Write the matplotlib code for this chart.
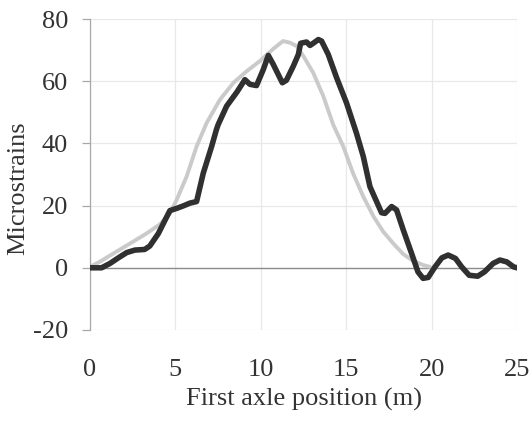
import matplotlib
matplotlib.use("Agg")
import matplotlib.pyplot as plt

# Measured strain (dark) and computed strain (light) vs first axle position
measured_x = [0, 0.68, 1.17, 1.66, 2.15, 2.63, 3.2, 3.5, 4.0, 4.4, 4.68, 5.07, 5.46,
              5.85, 6.24, 6.63, 7.12, 7.4, 7.5, 8.0, 8.6, 9.07, 9.36, 9.75, 10.15,
              10.44, 10.73, 11.26, 11.5, 11.9, 12.2, 12.33, 12.68, 12.88, 13.07,
              13.37, 13.56, 13.95, 14.44, 15.02, 15.6, 16.0, 16.39, 17.07, 17.27,
              17.66, 17.95, 18.34, 18.83, 19.2, 19.5, 19.8, 20.2, 20.6, 20.97,
              21.4, 21.76, 22.2, 22.7, 23.1, 23.6, 24.0, 24.4, 24.8, 25.0]
measured_y = [0, 0, 1.4, 3.2, 4.9, 5.7, 5.9, 7.0, 11.0, 15.4, 18.4, 19.1, 19.9,
              20.8, 21.3, 30.4, 39.0, 44.4, 46.0, 52.0, 56.5, 60.5, 59.0, 58.6, 63.8,
              68.3, 65.4, 59.5, 60.3, 64.8, 68.6, 72.2, 72.6, 71.5, 72.2,
              73.4, 72.9, 68.6, 61.1, 53.0, 43.3, 35.8, 26.1, 17.7, 17.5,
              19.7, 18.6, 12.2, 4.6, -1.3, -3.4, -3.1, 0.3, 3.2, 4.1,
              3.0, 0.3, -2.4, -2.7, -1.3, 1.4, 2.5, 1.9, 0.3, 0]

computed_x = [0, 0.59, 1.37, 2.34, 3.3, 4.1, 4.68, 5.07, 5.66, 6.24, 6.83, 7.6, 8.4,
              9.17, 9.95, 10.73, 11.3, 11.7, 12.1, 12.5, 13.07, 13.66, 14.24, 14.83,
              15.4, 16.0, 16.6, 17.17, 17.76, 18.34, 18.9, 19.5, 19.9]
computed_y = [0.3, 2.0, 4.6, 7.8, 11.0, 14.0, 17.5, 21.8, 29.4, 39.0, 46.6, 54.0, 59.5,
              63.2, 66.5, 70.4, 72.9, 72.4, 71.3, 68.0, 62.7, 55.2, 46.0, 39.0,
              30.4, 22.9, 16.5, 11.6, 7.8, 4.4, 2.3, 0.9, 0.3]

x_ticks = [0, 5, 10, 15, 20, 25]
y_ticks = [-20, 0, 20, 40, 60, 80]

plt.rcParams['font.family'] = ['Liberation Serif', 'DejaVu Serif']
plt.rcParams['axes.unicode_minus'] = False

W, H = 532, 428
fig = plt.figure(figsize=(W / 100, H / 100), dpi=100)
ax = fig.add_axes([90 / W, 1 - 330 / H, 427 / W, 311 / H])

ax.set_xlim(0, 25)
ax.set_ylim(-20, 80)
ax.set_xticks(x_ticks)
ax.set_yticks(y_ticks)
ax.grid(True, color='#e8e8e8', lw=0.9)
ax.set_axisbelow(True)

for side in ('top', 'right', 'bottom'):
    ax.spines[side].set_visible(False)
ax.spines['left'].set_color('#a8a8a8')
ax.spines['left'].set_linewidth(0.9)

ax.axhline(0, color='#8c8c8c', lw=1.0, zorder=1)

ax.plot(computed_x, computed_y, color='#cacaca', lw=2.8, solid_capstyle='round', zorder=2)
ax.plot(measured_x, measured_y, color='#303030', lw=4.0, solid_joinstyle='round',
        solid_capstyle='round', zorder=3)

ax.tick_params(axis='x', length=0, pad=21, labelsize=19, labelcolor='#333333')
ax.tick_params(axis='y', direction='out', length=5.8, width=0.9, color='#a8a8a8',
               pad=10, labelsize=19, labelcolor='#333333')

ax.set_xlabel('First axle position (m)', fontsize=19, color='#333333', labelpad=5)
ax.set_ylabel('Microstrains', fontsize=19, color='#333333', va='center')
ax.yaxis.set_label_coords((18 - 90) / 427, (330 - 188) / 311)

fig.savefig('out.png', dpi=100, facecolor='white')
